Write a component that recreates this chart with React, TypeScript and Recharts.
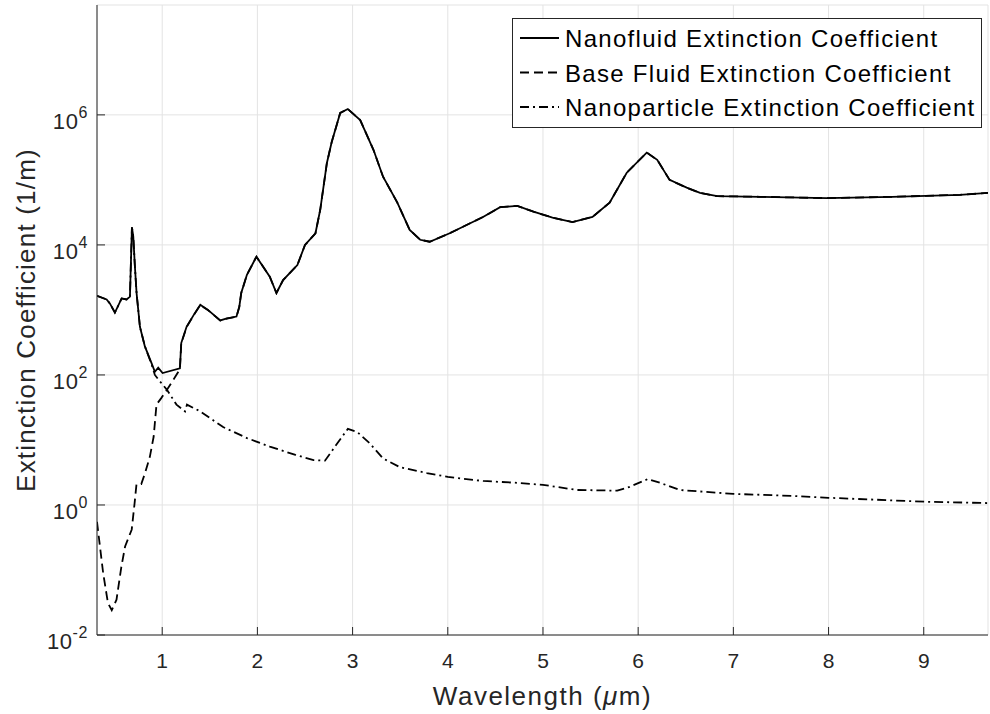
import React from 'react';
import { LineChart, Line, XAxis, YAxis, CartesianGrid, Legend } from 'recharts';

// ---- data ----
const wavelengthTicks = [1, 2, 3, 4, 5, 6, 7, 8, 9];
const coefficientTicks = [1e-2, 1e0, 1e2, 1e4, 1e6];

const nanofluidWavelength = [
  0.315, 0.416, 0.45, 0.503, 0.574, 0.626, 0.661, 0.682, 0.696, 0.713, 0.731, 0.766, 0.818, 0.889,
  0.923, 0.958, 1.004, 1.186, 1.2, 1.256, 1.33, 1.4, 1.48, 1.61, 1.68, 1.78, 1.81, 1.83, 1.89, 1.99,
  2.13, 2.2, 2.27, 2.42, 2.5, 2.61, 2.66, 2.73, 2.78, 2.87, 2.95, 3.08, 3.22, 3.32, 3.47, 3.6, 3.71,
  3.81, 4.02, 4.37, 4.55, 4.73, 4.9, 5.1, 5.31, 5.52, 5.7, 5.88, 6.09, 6.2, 6.33, 6.51, 6.65, 6.83,
  7.28, 7.98, 8.67, 9.38, 9.675,
];
const nanofluidCoefficient = [
  1650, 1450, 1260, 910, 1500, 1450, 1600, 18600, 13500, 4700, 1800, 550, 275, 151,
  112, 129, 107, 126, 309, 550, 832, 1200, 1000, 690, 740, 790, 1120, 1820, 3470, 6600,
  3240, 1820, 2880, 4900, 10000, 15100, 34700, 182000, 380000, 1070000, 1230000, 832000, 288000, 112000, 44700, 17000, 12000,
  11200, 15100, 26900, 38000, 39800, 32400, 26300, 22400, 26900, 44700, 129000, 263000, 204000, 100000, 75900, 63100, 56200,
  55000, 52500, 55000, 58900, 63100,
];

const baseFluidWavelength = [
  0.315, 0.38, 0.43, 0.47, 0.52, 0.57, 0.61, 0.68, 0.71, 0.73, 0.78, 0.82, 0.87, 0.91, 0.94, 0.99,
  1.05, 1.17, 1.186, 1.2, 1.256, 1.33, 1.4, 1.48, 1.61, 1.68, 1.78, 1.81, 1.83, 1.89, 1.99,
  2.13, 2.2, 2.27, 2.42, 2.5, 2.61, 2.66, 2.73, 2.78, 2.87, 2.95, 3.08, 3.22, 3.32, 3.47, 3.6, 3.71,
  3.81, 4.02, 4.37, 4.55, 4.73, 4.9, 5.1, 5.31, 5.52, 5.7, 5.88, 6.09, 6.2, 6.33, 6.51, 6.65, 6.83,
  7.28, 7.98, 8.67, 9.38, 9.675,
];
const baseFluidCoefficient = [
  0.55, 0.089, 0.031, 0.024, 0.035, 0.11, 0.23, 0.42, 1.07, 2.1, 2.1, 3.1, 5.5, 11.2, 35, 44,
  59, 112, 122, 305, 545, 825, 1190, 995, 686, 737, 787, 1115, 1815, 3465, 6590,
  3235, 1815, 2875, 4895, 9995, 15090, 34690, 182000, 380000, 1070000, 1230000, 832000, 288000, 112000, 44700, 17000, 12000,
  11200, 15100, 26900, 38000, 39800, 32400, 26300, 22400, 26900, 44700, 129000, 263000, 204000, 100000, 75900, 63100, 56200,
  55000, 52500, 55000, 58900, 63100,
];

const nanoparticleWavelength = [
  0.315, 0.416, 0.45, 0.503, 0.574, 0.626, 0.661, 0.682, 0.696, 0.713, 0.731, 0.766, 0.818, 0.889,
  0.923, 0.96, 1.05, 1.15, 1.24, 1.26, 1.4, 1.64, 1.89, 2.13, 2.4, 2.59, 2.71, 2.84, 2.95, 3.05,
  3.18, 3.32, 3.5, 3.78, 4.0, 4.37, 4.73, 5.0, 5.36, 5.78, 5.91, 6.1, 6.23, 6.44, 7.0, 7.62, 8.0,
  9.03, 9.675,
];
const nanoparticleCoefficient = [
  1650, 1450, 1260, 910, 1500, 1450, 1600, 18600, 13500, 4700, 1800, 550, 275, 145,
  100, 85, 59, 35, 27.5, 35, 27.5, 15.8, 10.7, 7.9, 5.9, 4.9, 4.8, 8.9, 14.8, 13.2,
  8.9, 5.2, 3.8, 3.1, 2.7, 2.34, 2.19, 2.04, 1.7, 1.66, 1.9, 2.5, 2.19, 1.7, 1.48, 1.38, 1.29,
  1.12, 1.07,
];

const toPoints = (wl: number[], val: number[]) => wl.map((w, i) => ({ w, v: val[i] }));

const SERIES = [
  { name: 'Nanofluid Extinction Coefficient', data: toPoints(nanofluidWavelength, nanofluidCoefficient), dash: undefined },
  { name: 'Base Fluid Extinction Coefficient', data: toPoints(baseFluidWavelength, baseFluidCoefficient), dash: '9 5' },
  { name: 'Nanoparticle Extinction Coefficient', data: toPoints(nanoparticleWavelength, nanoparticleCoefficient), dash: '9 4 2 4' },
];

const FONT = '"Liberation Sans", Arial, sans-serif';
const AXIS = '#262626';
const GRID = '#e3e3e3';
const TICK_LEN = 8;

/* ---------------- ticks (MATLAB style, pointing inward) ---------------- */

function BottomTick({ x, y, payload }: any) {
  return (
    <g>
      <line x1={x} y1={y} x2={x} y2={y - TICK_LEN} stroke={AXIS} />
      <text x={x} y={y + 33} textAnchor="middle" fontSize={21} fill={AXIS} fontFamily={FONT}>
        {payload.value}
      </text>
    </g>
  );
}

function TopTick({ x, y }: any) {
  return <line x1={x} y1={y} x2={x} y2={y + TICK_LEN} stroke={AXIS} />;
}

function LeftTick({ x, y, payload }: any) {
  const exp = Math.round(Math.log10(payload.value));
  return (
    <g>
      <line x1={x} y1={y} x2={x + TICK_LEN} y2={y} stroke={AXIS} />
      <text x={x - 9} y={y + 14} textAnchor="end" fontSize={22} fill={AXIS} fontFamily={FONT} style={{ letterSpacing: 0.6 }}>
        <tspan>10</tspan>
        <tspan dy={-11} fontSize={16}>{String(exp)}</tspan>
      </text>
    </g>
  );
}

function RightTick({ x, y }: any) {
  return <line x1={x} y1={y} x2={x - TICK_LEN} y2={y} stroke={AXIS} />;
}

/* ---------------- legend (kept in plot order, not sorted) ---------------- */

function LegendBox() {
  return (
    <svg width={470} height={110} style={{ display: 'block' }}>
      <rect x={0.5} y={0.5} width={469} height={109} fill="#fff" stroke={AXIS} />
      {SERIES.map((s, i) => {
        const cy = 20 + i * 34.5;
        return (
          <g key={s.name}>
            <line x1={8} y1={cy} x2={47} y2={cy} stroke="#000" strokeWidth={1.8} strokeDasharray={s.dash} />
            <text x={53} y={cy + 9} fontSize={24} fill="#000" fontFamily={FONT} style={{ letterSpacing: 1.3 }}>
              {s.name}
            </text>
          </g>
        );
      })}
    </svg>
  );
}

/* ---------------- axis labels ---------------- */

function XLabel({ viewBox }: any) {
  const { x, y, width } = viewBox;
  return (
    <text x={x + width / 2} y={y + 70} textAnchor="middle" fontSize={26} fill={AXIS} fontFamily={FONT} style={{ letterSpacing: 1.5 }}>
      Wavelength (<tspan fontStyle="italic">μ</tspan>m)
    </text>
  );
}

function YLabel({ viewBox }: any) {
  const { y, height } = viewBox;
  const cx = 35;
  const cy = y + height / 2;
  return (
    <text
      x={cx}
      y={cy}
      textAnchor="middle"
      fontSize={26}
      fill={AXIS}
      fontFamily={FONT}
      transform={`rotate(-90, ${cx}, ${cy})`}
      style={{ letterSpacing: 1.2 }}
    >
      Extinction Coefficient (1/m)
    </text>
  );
}

export default function App() {
  return (
    <div style={{ position: 'absolute', left: 0, top: 0, width: 990, height: 714, background: '#fff', fontFamily: FONT }}>
      <LineChart width={990} height={714} margin={{ top: 5, right: 2, bottom: 0, left: 0 }}>
        <CartesianGrid stroke={GRID} strokeWidth={1} />
        <XAxis
          dataKey="w"
          type="number"
          domain={[0.315, 9.675]}
          ticks={wavelengthTicks}
          allowDataOverflow
          height={79}
          stroke={AXIS}
          tickLine={false}
          tickSize={0}
          tickMargin={0}
          tick={<BottomTick />}
          label={<XLabel />}
        />
        <XAxis
          xAxisId="top"
          orientation="top"
          type="number"
          domain={[0.315, 9.675]}
          ticks={wavelengthTicks}
          allowDataOverflow
          height={0}
          stroke={AXIS}
          tickLine={false}
          tickSize={0}
          tickMargin={0}
          tick={<TopTick />}
        />
        <YAxis
          scale="log"
          type="number"
          domain={[0.01, 4.9e7]}
          ticks={coefficientTicks}
          allowDataOverflow
          width={97}
          stroke={AXIS}
          tickLine={false}
          tickSize={0}
          tickMargin={0}
          tick={<LeftTick />}
          label={<YLabel />}
        />
        <YAxis
          yAxisId="right"
          orientation="right"
          scale="log"
          type="number"
          domain={[0.01, 4.9e7]}
          ticks={coefficientTicks}
          allowDataOverflow
          width={0}
          stroke={AXIS}
          tickLine={false}
          tickSize={0}
          tickMargin={0}
          tick={<RightTick />}
        />
        <Legend
          layout="vertical"
          align="center"
          verticalAlign="middle"
          wrapperStyle={{ top: 18, left: 512, width: 470, height: 110 }}
          content={<LegendBox />}
        />
        {SERIES.map((s) => (
          <Line
            key={s.name}
            name={s.name}
            data={s.data}
            dataKey="v"
            type="linear"
            stroke="#000"
            strokeWidth={1.8}
            strokeDasharray={s.dash}
            dot={false}
            activeDot={false}
            isAnimationActive={false}
          />
        ))}
      </LineChart>
    </div>
  );
}
